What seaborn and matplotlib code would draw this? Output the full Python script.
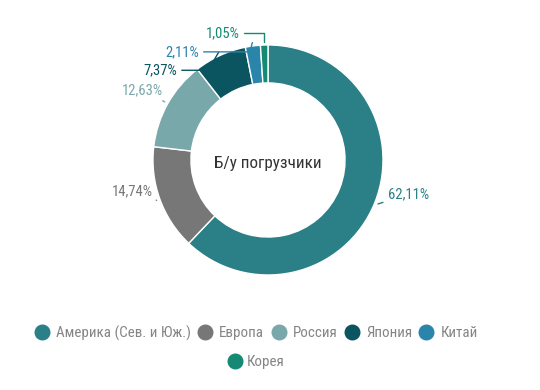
import numpy as np
import matplotlib
matplotlib.use("Agg")
import matplotlib.pyplot as plt
from matplotlib.lines import Line2D
import seaborn as sns

# данные диаграммы
regions = ["Америка (Сев. и Юж.)", "Европа", "Россия", "Япония", "Китай", "Корея"]
shares = [62.11, 14.74, 12.63, 7.37, 2.11, 1.05]
share_labels = ["62,11%", "14,74%", "12,63%", "7,37%", "2,11%", "1,05%"]
colors = ["#2b7f87", "#777777", "#79a8ab", "#0b5560", "#2b84aa", "#148a74"]
center_title = "Б/у погрузчики"

sns.set_theme(style="white")
plt.rcParams['font.family'] = ['Roboto Condensed', 'Open Sans Condensed', 'Liberation Sans Narrow',
                               'Roboto', 'DejaVu Sans']

fig = plt.figure(figsize=(5.4, 3.9), dpi=100)
ax = fig.add_axes([0, 0, 1, 1])

wedges, _ = ax.pie(shares, colors=colors, startangle=90, counterclock=False,
                   radius=1.0, wedgeprops=dict(width=0.33, edgecolor="white", linewidth=1))

ax.set_xlim(-2.33, 2.365)
ax.set_ylim(-2.0, 1.391)
ax.set_aspect("equal")
ax.axis("off")

ax.text(0, -0.03, center_title, ha="center", va="center", fontsize=12.3, color="#333333")

# позиции подписей (смещения относительно центра) и тип выноски
label_pos = [(1.04, -0.30, "left"), (-1.0, -0.27, "right"), (-0.91, 0.61, "right"),
             (-0.79, 0.78, "right"), (-0.6, 0.94, "right"), (-0.25, 1.10, "right")]
conn = ["arc3", "arc3", "arc3", "angle,angleA=0,angleB=60,rad=0",
        "angle,angleA=0,angleB=75,rad=0", "angle,angleA=0,angleB=90,rad=0"]

for w, lab, (tx, ty, ha), cs, col in zip(wedges, share_labels, label_pos, conn, colors):
    ang = np.deg2rad((w.theta1 + w.theta2) / 2)
    px, py = 1.03 * np.cos(ang), 1.03 * np.sin(ang)
    ax.annotate(lab, xy=(px, py), xytext=(tx, ty), ha=ha, va="center",
                fontsize=10.5, color=col,
                arrowprops=dict(arrowstyle="-", color=col, lw=1, shrinkA=1, shrinkB=0,
                                connectionstyle=cs))

handles = [Line2D([0], [0], marker="o", linestyle="", markersize=10.5,
                  markerfacecolor=c, markeredgecolor=c) for c in colors]

leg1 = fig.legend(handles[:5], regions[:5], loc="center", bbox_to_anchor=(0.474, 1 - 333 / 390),
                  ncol=5, frameon=False, fontsize=10.8, handletextpad=0.45, columnspacing=0.45,
                  handlelength=1.0, labelcolor="#858585")
leg2 = fig.legend(handles[5:], regions[5:], loc="center", bbox_to_anchor=(0.474, 1 - 362 / 390),
                  ncol=1, frameon=False, fontsize=10.8, handletextpad=0.3,
                  handlelength=1.0, labelcolor="#858585")

fig.savefig("out.png", dpi=100, facecolor="white")
